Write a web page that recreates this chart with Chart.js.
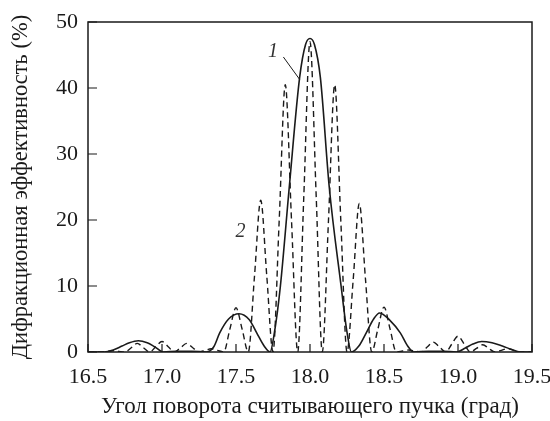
<!DOCTYPE html>
<html>
<head>
<meta charset="utf-8">
<script src="https://cdn.jsdelivr.net/npm/chart.js@4.4.1/dist/chart.umd.min.js"></script>
<style>
  body { margin: 0; background: #fff; }
  canvas { display: block; }
</style>
</head>
<body>
<canvas id="chart" width="550" height="421"></canvas>
<script>
// curve 1 (solid)
const solidAngle = [16.50, 16.61, 16.67, 16.73, 16.78, 16.84, 16.90, 16.95, 17.01, 17.10, 17.20, 17.30,
    17.35, 17.39, 17.45, 17.52, 17.59, 17.64, 17.69, 17.73, 17.76, 17.80, 17.86, 17.93, 17.97, 18.00,
    18.03, 18.07, 18.13, 18.21, 18.25, 18.28, 18.33, 18.38, 18.43, 18.47, 18.54, 18.61, 18.66, 18.70,
    18.80, 18.90, 18.99, 19.05, 19.10, 19.16, 19.23, 19.30, 19.36, 19.42, 19.50];
const solidEff = [0, 0, 0.3, 0.9, 1.4, 1.7, 1.4, 0.8, 0, 0.1, 0.1, 0,
    0.8, 2.9, 5.0, 5.8, 4.9, 2.9, 0.9, 0, 3, 10, 25, 41.6, 46.6, 47.5,
    46.6, 41.6, 25, 10, 3, 0, 0.9, 2.9, 5.0, 5.9, 4.8, 2.9, 0.9, 0,
    0.1, 0.1, 0, 0.6, 1.2, 1.6, 1.4, 0.9, 0.4, 0, 0];

// curve 2 (dashed)
const dashAngle = [16.500, 16.542, 16.583, 16.625, 16.667, 16.708, 16.750, 16.792, 16.833, 16.875,
    16.917, 16.958, 17.000, 17.042, 17.083, 17.125, 17.167, 17.208, 17.250, 17.292, 17.333, 17.375,
    17.417, 17.458, 17.500, 17.542, 17.583, 17.625, 17.667, 17.708, 17.750, 17.792, 17.833, 17.875,
    17.917, 17.958, 18.000, 18.042, 18.083, 18.125, 18.167, 18.208, 18.250, 18.292, 18.333, 18.375,
    18.417, 18.458, 18.500, 18.542, 18.583, 18.625, 18.667, 18.708, 18.750, 18.792, 18.833, 18.875,
    18.917, 18.958, 19.000, 19.042, 19.083, 19.125, 19.167, 19.208, 19.250, 19.292, 19.333, 19.375,
    19.417, 19.458, 19.500];
const dashEff = [0, 0, 0, 0.1, 0.2, 0.1, 0, 0.65, 1.3, 0.65,
    0, 0.8, 1.6, 0.8, 0, 0.65, 1.3, 0.65, 0, 0.25, 0.5, 0.25,
    0, 3.4, 6.7, 3.4, 0, 11.5, 23, 11.5, 0, 20, 40.5, 20,
    0, 23.5, 47, 23.5, 0, 20, 40.5, 20, 0, 11, 22.5, 11,
    0, 3.4, 6.8, 3.4, 0, 0.15, 0.3, 0.15, 0, 0.75, 1.5, 0.75,
    0, 1.2, 2.4, 1.2, 0, 0.55, 1.1, 0.55, 0, 0.25, 0.5, 0.25,
    0, 0, 0];

const xTicks = [16.5, 17.0, 17.5, 18.0, 18.5, 19.0, 19.5];
const yTicks = [0, 10, 20, 30, 40, 50];

const serif = "'Liberation Serif', 'DejaVu Serif', serif";
const ink = "#1a1a1a";

const framePlugin = {
    id: "frame",
    afterDatasetsDraw(chart) {
        const { ctx, chartArea: a, scales: { x, y } } = chart;
        ctx.save();
        ctx.strokeStyle = ink;
        ctx.lineWidth = 1.5;
        ctx.strokeRect(a.left, a.top, a.right - a.left, a.bottom - a.top);
        ctx.lineWidth = 1.2;
        ctx.beginPath();
        xTicks.forEach(v => {
            const px = x.getPixelForValue(v);
            ctx.moveTo(px, a.bottom);
            ctx.lineTo(px, a.bottom - 8);
        });
        yTicks.forEach(v => {
            const py = y.getPixelForValue(v);
            ctx.moveTo(a.left, py);
            ctx.lineTo(a.left + 9, py);
        });
        ctx.stroke();

        // curve labels
        ctx.fillStyle = "#333";
        ctx.font = "italic 20px " + serif;
        ctx.textAlign = "center";
        ctx.textBaseline = "middle";
        ctx.fillText("1", x.getPixelForValue(17.75), y.getPixelForValue(45.5));
        ctx.fillText("2", x.getPixelForValue(17.53), y.getPixelForValue(18.2));
        ctx.lineWidth = 1;
        ctx.beginPath();
        ctx.moveTo(x.getPixelForValue(17.82), y.getPixelForValue(44.7));
        ctx.lineTo(x.getPixelForValue(17.93), y.getPixelForValue(41.3));
        ctx.stroke();
        ctx.restore();
    }
};

new Chart(document.getElementById("chart"), {
    type: "line",
    data: {
        datasets: [{
            label: "1",
            data: solidAngle.map((a, i) => ({ x: a, y: solidEff[i] })),
            borderColor: ink,
            borderWidth: 1.6,
            pointRadius: 0,
            cubicInterpolationMode: "monotone",
            fill: false
        }, {
            label: "2",
            data: dashAngle.map((a, i) => ({ x: a, y: dashEff[i] })),
            borderColor: ink,
            borderWidth: 1.4,
            borderDash: [6, 4],
            pointRadius: 0,
            cubicInterpolationMode: "monotone",
            fill: false
        }]
    },
    options: {
        responsive: false,
        animation: false,
        layout: { padding: { top: 22, right: 18, left: 0, bottom: 0 } },
        plugins: {
            legend: { display: false },
            tooltip: { enabled: false }
        },
        scales: {
            x: {
                type: "linear",
                min: 16.5,
                max: 19.5,
                afterBuildTicks: s => { s.ticks = xTicks.map(v => ({ value: v })); },
                afterFit: s => { s.height = 69; s.paddingLeft = 0; s.paddingRight = 0; },
                grid: { display: false, drawTicks: false },
                border: { display: false },
                ticks: {
                    color: ink,
                    padding: 12,
                    maxRotation: 0,
                    font: { family: serif, size: 22 },
                    callback: v => v.toFixed(1)
                },
                title: {
                    display: true,
                    text: "Угол поворота считывающего пучка (град)",
                    color: ink,
                    font: { family: serif, size: 23 },
                    padding: { top: 0, bottom: 0 }
                }
            },
            y: {
                min: 0,
                max: 50,
                afterBuildTicks: s => { s.ticks = yTicks.map(v => ({ value: v })); },
                afterFit: s => { s.width = 88; s.paddingTop = 0; s.paddingBottom = 0; },
                grid: { display: false, drawTicks: false },
                border: { display: false },
                ticks: {
                    color: ink,
                    padding: 10,
                    font: { family: serif, size: 22 }
                },
                title: {
                    display: true,
                    text: "Дифракционная эффективность (%)",
                    color: ink,
                    font: { family: serif, size: 22.5 },
                    padding: { top: 8, bottom: 0 }
                }
            }
        }
    },
    plugins: [framePlugin]
});
</script>
</body>
</html>
